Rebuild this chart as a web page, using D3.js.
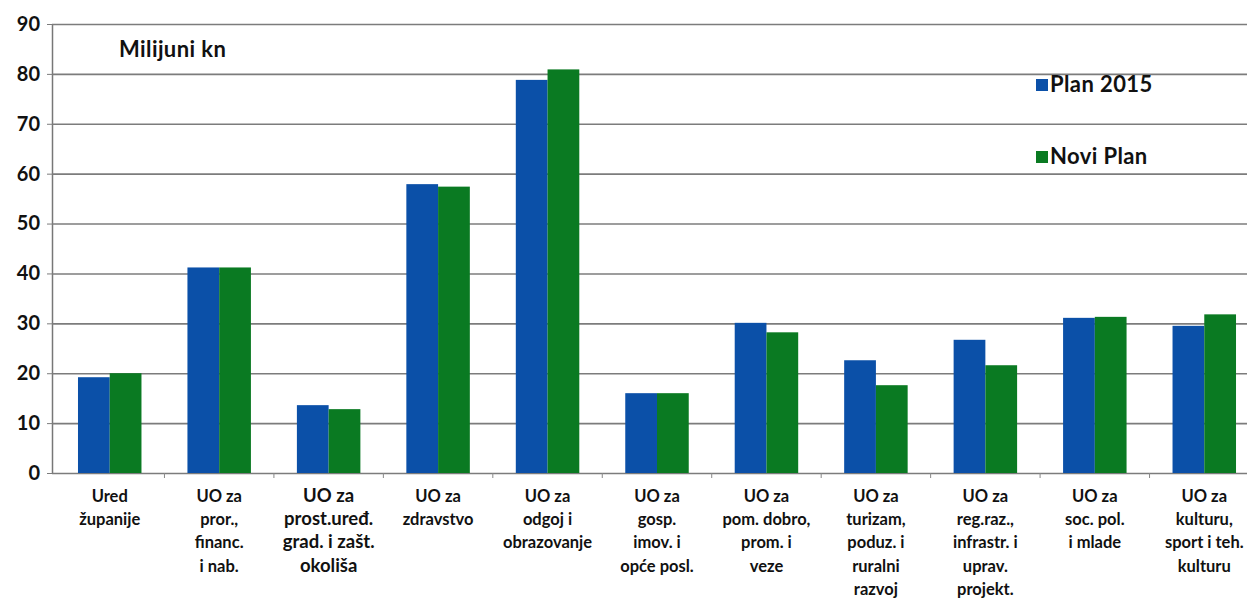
<!DOCTYPE html>
<html><head><meta charset="utf-8">
<script src="https://cdn.jsdelivr.net/npm/d3@7"></script>
<style>body{margin:0;background:#fff}svg{display:block}text{font-family:Lato,"Open Sans",sans-serif;font-weight:bold;fill:#111}</style>
</head><body><svg id="c" width="1247" height="600"></svg>
<script>
const categories = [
  ["Ured","županije"],
  ["UO za","pror.,","financ.","i nab."],
  ["UO za","prost.uređ.","grad. i zašt.","okoliša"],
  ["UO za","zdravstvo"],
  ["UO za","odgoj i","obrazovanje"],
  ["UO za","gosp.","imov. i","opće posl."],
  ["UO za","pom. dobro,","prom. i","veze"],
  ["UO za","turizam,","poduz. i","ruralni","razvoj"],
  ["UO za","reg.raz.,","infrastr. i","uprav.","projekt."],
  ["UO za","soc. pol.","i mlade"],
  ["UO za","kulturu,","sport i teh.","kulturu"]
];
const seriesNames = ["Plan 2015","Novi Plan"];
const plan2015 = [19.2,41.2,13.6,57.9,78.8,16.0,30.1,22.6,26.7,31.1,29.5];
const noviPlan = [20.0,41.2,12.8,57.4,80.9,16.0,28.2,17.6,21.6,31.3,31.8];
const yTicks = [0,10,20,30,40,50,60,70,80,90];
const colors = ["#0b50a8","#0a7a22"];

const svg = d3.select("#c");
const axX = 52, x0 = 55, x1 = 1259, yTop = 24, yBot = 473;
const x = d3.scaleBand().domain(d3.range(categories.length)).range([x0,x1]).paddingInner(0.42).paddingOuter(0.21);
const xs = d3.scaleBand().domain([0,1]).range([0,x.bandwidth()]);
const y = d3.scaleLinear().domain([0,90]).range([yBot,yTop]);

// gridlines
const yAxis = d3.axisLeft(y).tickValues(yTicks).tickSize(-(1247-axX)).tickSizeOuter(0).tickPadding(12);
const ga = svg.append("g").attr("transform",`translate(${axX},0)`).call(yAxis);
ga.select(".domain").attr("stroke","#777").attr("stroke-width",1.5);
ga.selectAll(".tick line").attr("stroke","#7c7c7c").attr("stroke-width",1.6);
ga.selectAll(".tick text").style("font-size","20px").attr("fill","#111");
ga.selectAll(".tick").append("line").attr("x1",-5).attr("x2",0).attr("stroke","#7c7c7c");

// x axis ticks at boundaries
const step = x.step();
svg.append("g").selectAll("line").data(d3.range(categories.length)).join("line")
  .attr("x1",i=>x0+step*(i+1)).attr("x2",i=>x0+step*(i+1))
  .attr("y1",yBot).attr("y2",yBot+5).attr("stroke","#888");

// bars
const data = categories.map((c,i)=>[plan2015[i],noviPlan[i]]);
const g = svg.append("g").selectAll("g").data(data).join("g")
  .attr("transform",(d,i)=>`translate(${x(i)},0)`);
g.selectAll("rect").data(d=>d).join("rect")
  .attr("x",(d,j)=>xs(j)).attr("width",xs.bandwidth())
  .attr("y",d=>y(d)).attr("height",d=>yBot-y(d))
  .attr("fill",(d,j)=>colors[j]);

// category labels
categories.forEach((lines,i)=>{
  const t = svg.append("text").attr("text-anchor","middle")
    .style("font-size", i===2 ? "18.5px" : "16.5px");
  lines.forEach((l,k)=>{
    t.append("tspan").attr("x",x(i)+x.bandwidth()/2).attr("y",502+k*23.2).text(l);
  });
});

// title
svg.append("text").attr("x",119).attr("y",57).style("font-size","22px").style("letter-spacing","0.4px").text("Milijuni kn");

// legend
seriesNames.forEach((n,i)=>{
  const ly = 87 + i*72;
  svg.append("rect").attr("x",1036).attr("y",ly-8).attr("width",12).attr("height",12).attr("fill",colors[i]);
  svg.append("text").attr("x",1050).attr("y",ly+5).style("font-size","22px").style("letter-spacing","0.4px").text(n);
});
</script></body></html>
